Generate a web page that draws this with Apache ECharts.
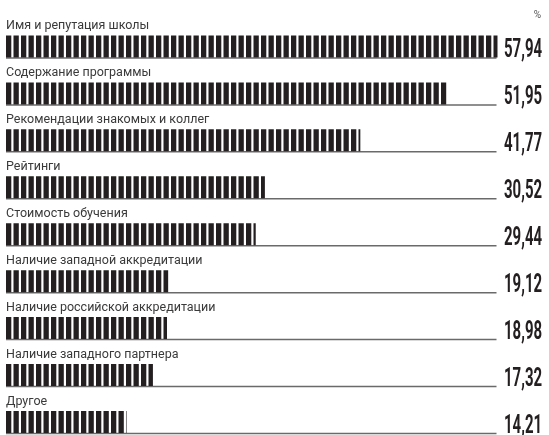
<!DOCTYPE html>
<html>
<head>
<meta charset="utf-8">
<script src="https://cdn.jsdelivr.net/npm/echarts@6/dist/echarts.min.js"></script>
<style>
  html, body { margin: 0; padding: 0; background: #fff; overflow: hidden; }
  #chart { width: 549px; height: 446px; }
</style>
</head>
<body>
<div id="chart"></div>
<script>
// Факторы выбора бизнес-школы, % ответивших
const categories = [
  'Имя и репутация школы',
  'Содержание программы',
  'Рекомендации знакомых и коллег',
  'Рейтинги',
  'Стоимость обучения',
  'Наличие западной аккредитации',
  'Наличие российской аккредитации',
  'Наличие западного партнера',
  'Другое'
];
const shares = [57.94, 51.95, 41.77, 30.52, 29.44, 19.12, 18.98, 17.32, 14.21];
const unitLabel = '%';
const axisMax = 58;

const BAR_W = 22;
const INK = '#231f20';

// vertical stripe fill for the bars
function stripePattern() {
  const c = document.createElement('canvas');
  c.width = 15; c.height = 4;
  const g = c.getContext('2d');
  g.fillStyle = INK;
  g.fillRect(6, 0, 5.3, 4);
  g.fillRect(13.5, 0, 1.5, 4);
  g.fillRect(0, 0, 3.8, 4);
  return c;
}

const fmt = v => v.toFixed(2).replace('.', ',');
const rows = shares.map((v, i) => [v, i]);

const chart = echarts.init(document.getElementById('chart'), null, { renderer: 'canvas' });
chart.setOption({
  animation: false,
  backgroundColor: '#fff',
  title: {
    text: unitLabel,
    right: 3, top: 5,
    textStyle: { fontFamily: 'Roboto', fontSize: 10, fontWeight: 'normal', color: '#555' }
  },
  grid: { left: 6, top: 23, right: 51, bottom: 0.6 },
  xAxis: { type: 'value', min: 0, max: axisMax, show: false },
  yAxis: { type: 'category', data: categories, inverse: true, show: false },
  series: [
    {
      // thin rule under each bar
      type: 'custom',
      data: rows,
      encode: { x: 0, y: 1 },
      z: 1,
      silent: true,
      renderItem: (params, api) => {
        const idx = api.value(1);
        const a = api.coord([0, idx]);
        const b = api.coord([axisMax, idx]);
        const y = a[1] + BAR_W / 2 + 0.5;
        return {
          type: 'line',
          shape: { x1: a[0], y1: y, x2: b[0] - 1.5, y2: y },
          style: { stroke: '#6a6a6a', lineWidth: 1.5 }
        };
      }
    },
    {
      type: 'bar',
      data: shares,
      barWidth: BAR_W,
      z: 2,
      itemStyle: { color: { image: stripePattern(), repeat: 'repeat' } },
      label: {
        show: true,
        formatter: '{b}',
        position: [0, -3],
        align: 'left',
        verticalAlign: 'bottom',
        fontFamily: 'Roboto',
        fontSize: 12.5,
        color: '#3a3a3a'
      }
    },
    {
      // value numbers at the right edge
      type: 'custom',
      data: rows,
      encode: { x: 0, y: 1 },
      z: 3,
      silent: true,
      renderItem: (params, api) => {
        const idx = api.value(1);
        const p = api.coord([axisMax, idx]);
        return {
          type: 'text',
          x: p[0] + 6,
          y: p[1] + BAR_W / 2 - 6.5,
          scaleX: 0.6,
          style: {
            text: fmt(api.value(0)),
            x: 0, y: 0,
            align: 'left',
            verticalAlign: 'middle',
            font: 'bold 25px Roboto',
            fill: INK
          }
        };
      }
    }
  ]
});
</script>
</body>
</html>
